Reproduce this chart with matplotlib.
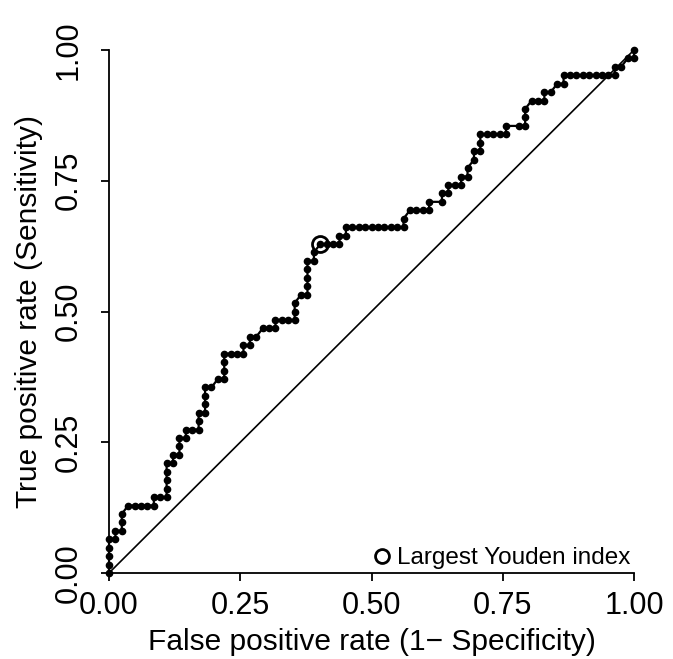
import numpy as np
import matplotlib
matplotlib.use("Agg")
import matplotlib.pyplot as plt
from matplotlib.lines import Line2D

plt.rcParams['font.family'] = ['Liberation Sans', 'DejaVu Sans']

# number of negatives / positives (grid of the ROC steps)
n_neg = 82
n_pos = 62

# ROC points as counts: false positives, true positives
fp_counts = [0, 0, 0, 0, 0, 1, 1, 2, 2, 2, 3, 4, 5, 6, 7, 7, 8, 9, 9, 9,
             9, 9, 10, 10, 11, 11, 11, 12, 12, 13, 14, 14, 14, 15, 15, 15, 15, 16, 17, 18,
             18, 18, 18, 19, 20, 21, 21, 22, 22, 23, 24, 25, 26, 26, 27, 28, 29, 29, 29, 30,
             31, 31, 31, 31, 31, 32, 32, 33, 34, 35, 36, 36, 37, 37, 38, 39, 40, 41, 42, 43,
             44, 45, 46, 46, 47, 48, 49, 50, 50, 52, 52, 53, 53, 54, 55, 55, 56, 56, 57, 57,
             58, 58, 58, 59, 60, 61, 62, 62, 64, 65, 65, 65, 66, 67, 68, 68, 69, 70, 71, 71,
             72, 73, 74, 75, 76, 77, 78, 79, 79, 80, 81, 82, 82]
tp_counts = [0, 1, 2, 3, 4, 4, 5, 5, 6, 7, 8, 8, 8, 8, 8, 9, 9, 9, 10, 11,
             12, 13, 13, 14, 14, 15, 16, 16, 17, 17, 17, 18, 19, 19, 20, 21, 22, 22, 23, 23,
             24, 25, 26, 26, 26, 26, 27, 27, 28, 28, 29, 29, 29, 30, 30, 30, 30, 31, 32, 33,
             33, 34, 35, 36, 37, 37, 38, 39, 39, 39, 39, 40, 40, 41, 41, 41, 41, 41, 41, 41,
             41, 41, 41, 42, 43, 43, 43, 43, 44, 44, 45, 45, 46, 46, 46, 47, 47, 48, 49, 50,
             50, 51, 52, 52, 52, 52, 52, 53, 53, 53, 54, 55, 56, 56, 56, 57, 57, 58, 58, 59,
             59, 59, 59, 59, 59, 59, 59, 59, 60, 60, 61, 61, 62]

youden_fp = 33
youden_tp = 39

x_ticks = [0, 0.25, 0.5, 0.75, 1.0]
tick_labels = ["0.00", "0.25", "0.50", "0.75", "1.00"]

fpr = np.array(fp_counts) / n_neg
tpr = np.array(tp_counts) / n_pos

fig = plt.figure(figsize=(6.73, 6.59), dpi=100)
ax = fig.add_axes([109 / 673, 86 / 659, 525 / 673, 523 / 659])

# chance line
ax.plot([0, 1], [0, 1], color='black', lw=1.2, clip_on=False)
# ROC curve
ax.plot(fpr, tpr, color='black', lw=1.6, marker='o', markersize=4.5,
        clip_on=False, zorder=3)
# largest Youden index
ax.plot(youden_fp / n_neg, youden_tp / n_pos, marker='o', markersize=11.5,
        markerfacecolor='none', markeredgecolor='black', markeredgewidth=2,
        linestyle='none', zorder=4)

ax.set_xlim(0, 1)
ax.set_ylim(0, 1)
for s in ['top', 'right']:
    ax.spines[s].set_visible(False)
for s in ['left', 'bottom']:
    ax.spines[s].set_linewidth(1.3)

ax.set_xticks(x_ticks)
ax.set_xticklabels(tick_labels)
ax.set_yticks(x_ticks)
ax.set_yticklabels(tick_labels, rotation=90, va='center')
ax.tick_params(axis='both', labelsize=22, length=6, width=1.3, direction='out')
ax.tick_params(axis='x', pad=7)
ax.tick_params(axis='y', pad=12)

ax.set_xlabel("False positive rate (1\u2212 Specificity)", fontsize=21.5, labelpad=5)
ax.set_ylabel("True positive rate (Sensitivity)", fontsize=21.5, labelpad=8)

handle = Line2D([], [], marker='o', markersize=10, markerfacecolor='none',
                markeredgecolor='black', markeredgewidth=2, linestyle='none')
ax.legend([handle], ["Largest Youden index"], loc='lower right',
          bbox_to_anchor=(1.0, 0.0), frameon=False, fontsize=17.5,
          borderaxespad=0.0, borderpad=0.15, handlelength=0.8, handletextpad=0.2)

fig.savefig("out.png", dpi=100)
